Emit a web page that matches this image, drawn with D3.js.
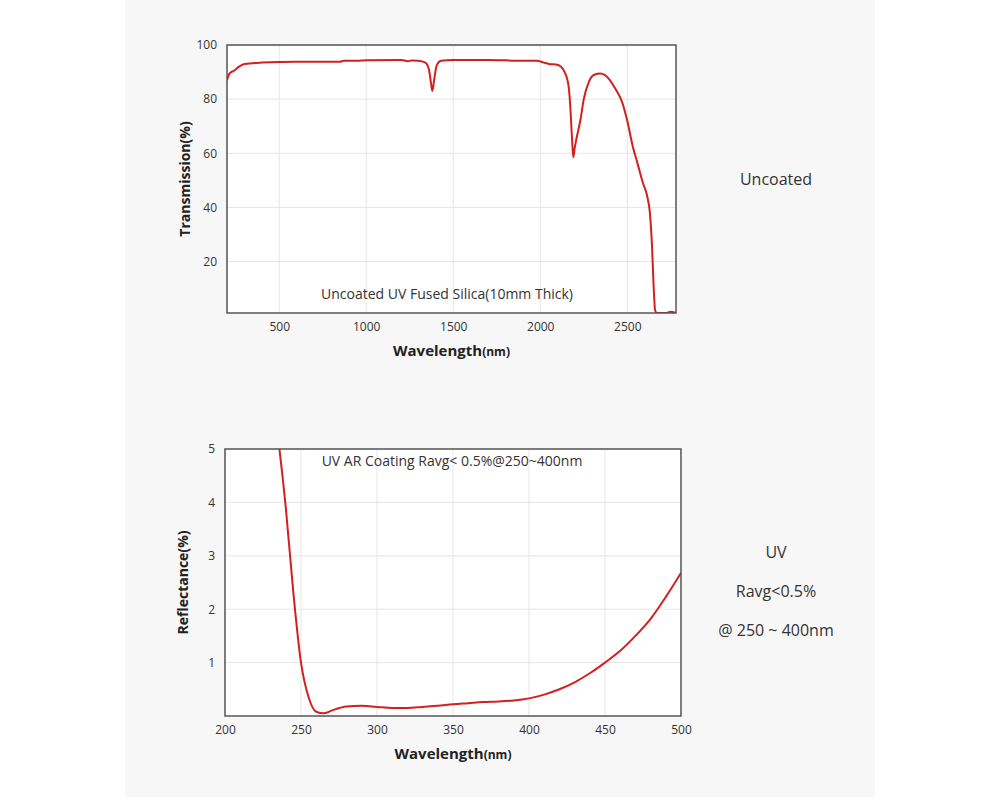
<!DOCTYPE html>
<html><head><meta charset="utf-8">
<script src="https://cdn.jsdelivr.net/npm/d3@7"></script>
<style>
body{margin:0;background:#fff;font-family:"Open Sans",sans-serif;}
</style></head>
<body>
<script>
var transWl = [200,215,240,270,300,400,600,850,870,950,1000,1200,1240,1260,1300,1340,1360,1372,1380,1390,1405,1430,1500,1700,1900,1980,2020,2050,2090,2120,2140,2160,2172,2182,2190,2198,2210,2230,2250,2280,2310,2345,2370,2400,2430,2470,2500,2530,2560,2590,2615,2630,2642,2652,2660,2670,2690,2720,2750,2780];
var transVal = [87,89.5,90.5,92,93,93.5,93.8,93.8,94.2,94.2,94.4,94.5,94,94.3,94.2,93.5,91,86,83,87,92.5,94.2,94.5,94.5,94.2,94.2,93.5,93,92.8,92,90,86,78,66,58.5,62,66,72,80,86.5,89,89.5,89,87,84,79,72,63,56,49,44,38,26,10,2,1,1,1,1.5,1];
var reflWl = [235,240,245,250,255,260,265,270,280,290,300,310,320,330,340,350,360,370,380,390,400,410,420,430,440,450,460,470,480,490,500];
var reflVal = [5.2,3.9,2.3,1.0,0.35,0.08,0.05,0.1,0.18,0.19,0.17,0.15,0.15,0.17,0.19,0.22,0.24,0.26,0.27,0.29,0.33,0.4,0.5,0.63,0.8,1.0,1.22,1.5,1.82,2.23,2.68];
var transXTicks = [500,1000,1500,2000,2500];
var transYTicks = [20,40,60,80,100];
var reflXTicks = [200,250,300,350,400,450,500];
var reflYTicks = [1,2,3,4,5];

var svg = d3.select("body").append("svg").attr("width",1000).attr("height",797);
svg.append("rect").attr("x",125).attr("y",0).attr("width",750).attr("height",797).attr("fill","#f7f7f7");

function panel(o){
  var x = d3.scaleLinear().domain(o.xd).range([o.l,o.r]);
  var y = d3.scaleLinear().domain(o.yd).range([o.b,o.t]);
  svg.append("rect").attr("x",o.l).attr("y",o.t).attr("width",o.r-o.l).attr("height",o.b-o.t).attr("fill","#fff");
  var g = svg.append("g");
  g.selectAll("line.vx").data(o.xt).enter().append("line")
    .attr("x1",d=>x(d)).attr("x2",d=>x(d)).attr("y1",o.t).attr("y2",o.b).attr("stroke","#e6e6e6");
  g.selectAll("line.hy").data(o.yt).enter().append("line")
    .attr("y1",d=>y(d)).attr("y2",d=>y(d)).attr("x1",o.l).attr("x2",o.r).attr("stroke","#e6e6e6");
  var ax = svg.append("g").attr("transform","translate(0,"+o.b+")")
    .call(d3.axisBottom(x).tickValues(o.xt).tickSize(0).tickPadding(9).tickFormat(d3.format("d")));
  var ay = svg.append("g").attr("transform","translate("+o.l+",0)")
    .call(d3.axisLeft(y).tickValues(o.yt).tickSize(0).tickPadding(10).tickFormat(d3.format("d")));
  [ax,ay].forEach(a=>{a.select(".domain").remove();a.selectAll("text").attr("font-size",12).attr("fill","#333").attr("font-family","Open Sans, sans-serif");});
  var clip = "c"+o.t;
  svg.append("clipPath").attr("id",clip).append("rect").attr("x",o.l).attr("y",o.t).attr("width",o.r-o.l).attr("height",o.b-o.t);
  var line = d3.line().x(d=>x(d[0])).y(d=>y(d[1])).curve(d3.curveMonotoneX);
  svg.append("path").datum(d3.zip(o.xs,o.ys)).attr("clip-path","url(#"+clip+")")
    .attr("d",line).attr("fill","none").attr("stroke","#d41f1f").attr("stroke-width",2);
  svg.append("rect").attr("x",o.l).attr("y",o.t).attr("width",o.r-o.l).attr("height",o.b-o.t)
    .attr("fill","none").attr("stroke","#555").attr("stroke-width",1.5);
  var xl = svg.append("text").attr("x",(o.l+o.r)/2).attr("y",o.b+43).attr("text-anchor","middle")
    .attr("font-size",15).attr("font-weight","bold").attr("fill","#222");
  xl.append("tspan").text("Wavelength");
  xl.append("tspan").attr("font-size",12).text("(nm)");
  svg.append("text").attr("transform","translate("+(o.l-37)+","+((o.t+o.b)/2)+") rotate(-90)")
    .attr("text-anchor","middle").attr("font-size",14).attr("font-weight","bold").attr("fill","#222").text(o.ylab);
  svg.append("text").attr("x",o.nx).attr("y",o.ny).attr("text-anchor","middle").attr("font-size",14).attr("fill","#333").text(o.note);
}

panel({l:227,r:676,t:45,b:313,xd:[200,2780],yd:[1,100],xt:transXTicks,yt:transYTicks,xs:transWl,ys:transVal,
  ylab:"Transmission(%)",note:"Uncoated UV Fused Silica(10mm Thick)",nx:447,ny:299});
panel({l:225,r:681,t:449,b:716,xd:[200,500],yd:[0,5],xt:reflXTicks,yt:reflYTicks,xs:reflWl,ys:reflVal,
  ylab:"Reflectance(%)",note:"UV AR Coating Ravg< 0.5%@250~400nm",nx:452,ny:466});

var side = [["Uncoated",179],["UV",552],["Ravg<0.5%",591],["@ 250 ~ 400nm",630]];
svg.selectAll("text.side").data(side).enter().append("text")
  .attr("x",776).attr("y",d=>d[1]+6).attr("text-anchor","middle").attr("font-size",16).attr("fill","#333").text(d=>d[0]);
</script>
</body></html>
